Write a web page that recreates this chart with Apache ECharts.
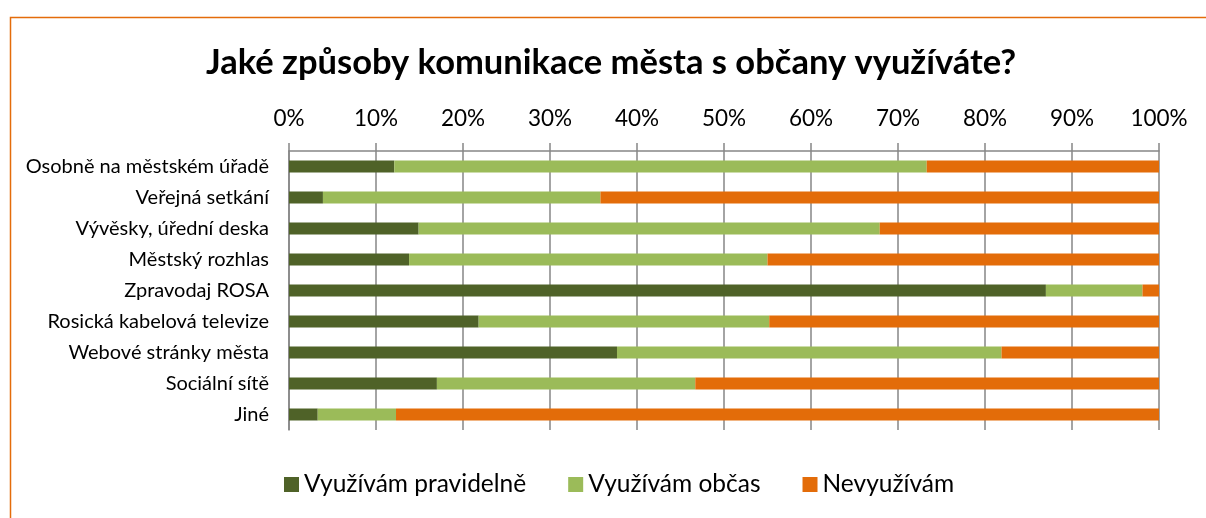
<!DOCTYPE html>
<html>
<head>
<meta charset="utf-8">
<script src="https://cdn.jsdelivr.net/npm/echarts@6/dist/echarts.min.js"></script>
<style>
  html, body { margin: 0; padding: 0; background: #fff; }
  #chart { width: 1206px; height: 518px; }
</style>
</head>
<body>
<div id="chart"></div>
<script>
const categories = [
  'Osobně na městském úřadě',
  'Veřejná setkání',
  'Vývěsky, úřední deska',
  'Městský rozhlas',
  'Zpravodaj ROSA',
  'Rosická kabelová televize',
  'Webové stránky města',
  'Sociální sítě',
  'Jiné'
];
const seriesNames = ['Využívám pravidelně', 'Využívám občas', 'Nevyužívám'];
const regular = [12.1, 3.9, 14.9, 13.8, 87.0, 21.8, 37.7, 17.0, 3.3];
const sometimes = [61.2, 31.9, 53.0, 41.2, 11.1, 33.4, 44.2, 29.7, 9.0];
const never = [26.7, 64.2, 32.1, 45.0, 1.9, 44.8, 18.1, 53.3, 87.7];
const colors = ['#4F6228', '#9BBB59', '#E36C09'];

const font = 'Lato, "Open Sans", sans-serif';
const chart = echarts.init(document.getElementById('chart'));

const series = [regular, sometimes, never].map(function (vals, i) {
  return {
    name: seriesNames[i],
    type: 'bar',
    stack: 'total',
    barWidth: 12,
    itemStyle: { color: colors[i] },
    data: vals
  };
});

chart.setOption({
  animation: false,
  textStyle: { fontFamily: font },
  graphic: [{
    type: 'rect',
    left: 8, top: 15,
    shape: { width: 1300, height: 600 },
    style: { fill: 'none', stroke: '#E46C0A', lineWidth: 1.5 },
    silent: true
  }],
  title: {
    text: 'Jaké způsoby komunikace města s občany využíváte?',
    left: 201,
    top: 40,
    textStyle: { fontFamily: font, fontSize: 34.5, fontWeight: 'bold', color: '#000' }
  },
  legend: {
    top: 467,
    left: 279,
    itemWidth: 15,
    itemHeight: 15,
    itemGap: 42,
    icon: 'rect',
    textStyle: { fontFamily: font, fontSize: 24.5, color: '#000' },
    data: seriesNames
  },
  grid: { left: 289, right: 47, top: 151, bottom: 88 },
  xAxis: {
    type: 'value',
    position: 'top',
    min: 0,
    max: 100,
    interval: 10,
    axisLine: { show: true, lineStyle: { color: '#868686', width: 1.5 } },
    axisTick: { show: true, length: 8, lineStyle: { color: '#868686', width: 1.5 } },
    axisLabel: { formatter: '{value}%', fontSize: 22.5, color: '#000', margin: 21, fontFamily: font },
    splitLine: { show: true, lineStyle: { color: '#868686', width: 1.5 } }
  },
  yAxis: {
    type: 'category',
    inverse: true,
    data: categories,
    axisLine: { show: true, lineStyle: { color: '#868686', width: 1.5 } },
    axisTick: { show: false },
    axisLabel: { fontSize: 20, color: '#000', margin: 20, fontFamily: font }
  },
  series: series
});
</script>
</body>
</html>
